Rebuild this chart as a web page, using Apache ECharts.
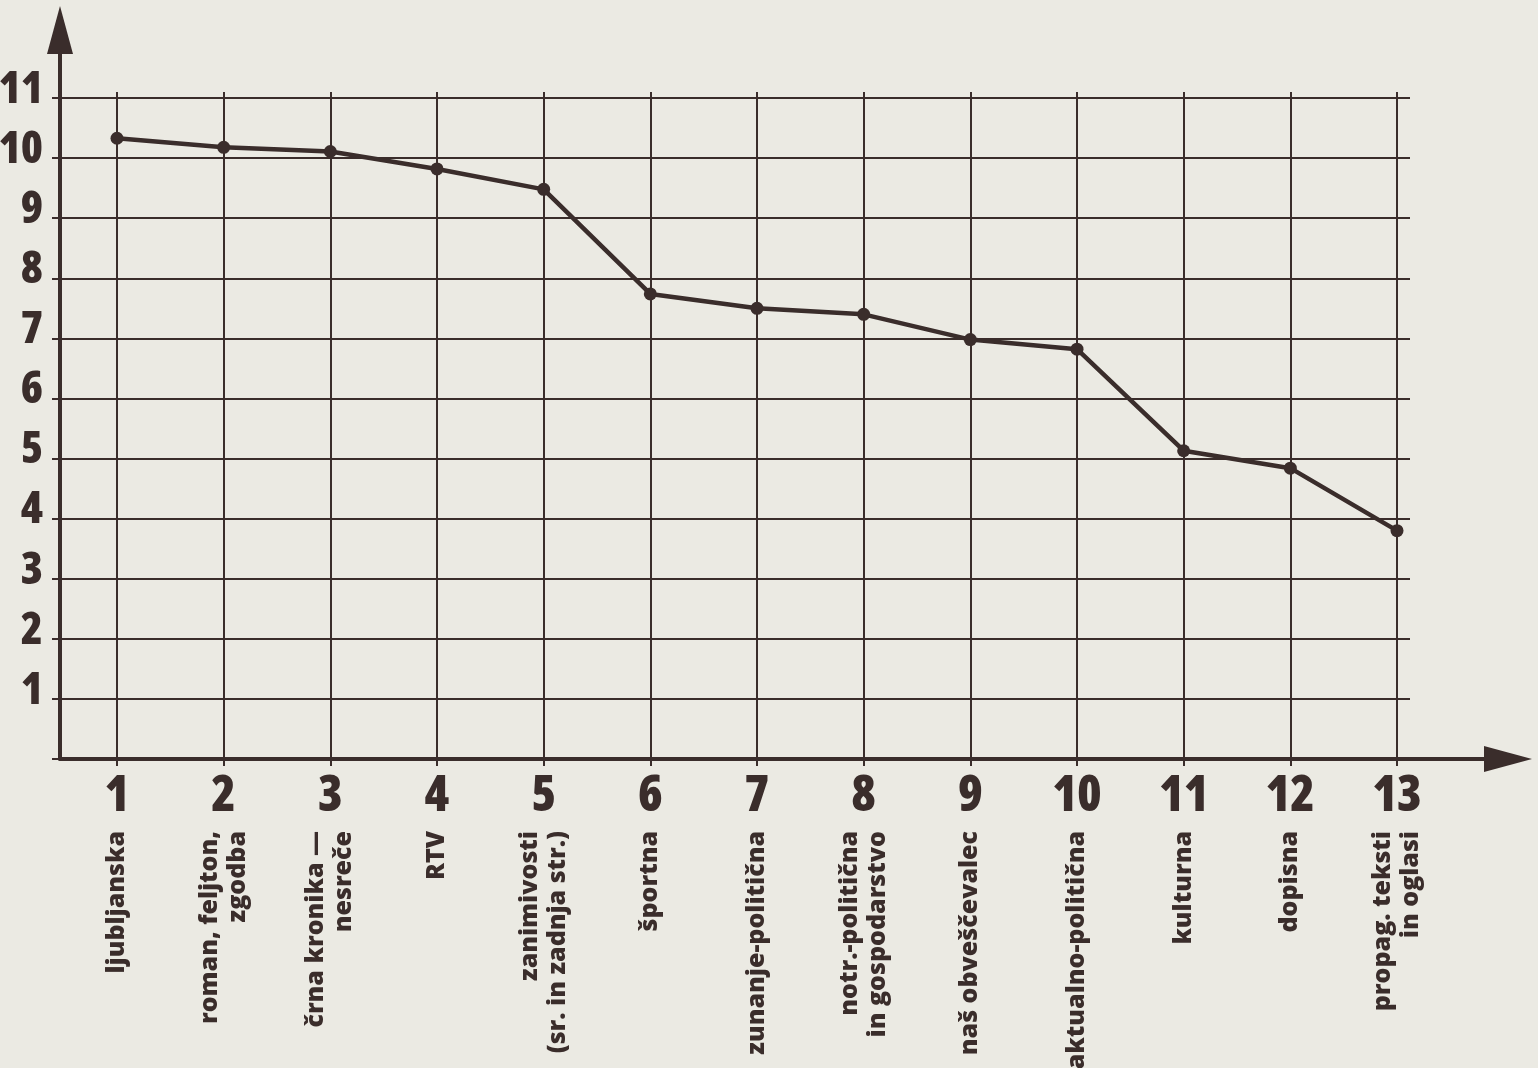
<!DOCTYPE html>
<html>
<head>
<meta charset="utf-8">
<script src="https://cdn.jsdelivr.net/npm/echarts@6/dist/echarts.min.js"></script>
<style>
html,body{margin:0;padding:0;background:#ebeae3;}
#chart{width:1538px;height:1068px;}
</style>
</head>
<body>
<div id="chart"></div>
<script>
// ---- data ----
const categoryNumbers = ['1','2','3','4','5','6','7','8','9','10','11','12','13'];
const categoryNames = [
  'ljubljanska',
  'roman, feljton,\nzgodba',
  'črna kronika —\nnesreče',
  'RTV',
  'zanimivosti\n(sr. in zadnja str.)',
  'športna',
  'zunanje-politična',
  'notr.-politična\nin gospodarstvo',
  'naš obveščevalec',
  'aktualno-politična',
  'kulturna',
  'dopisna',
  'propag. teksti\nin oglasi'
];
const values = [10.33, 10.18, 10.11, 9.82, 9.48, 7.74, 7.5, 7.4, 6.98, 6.82, 5.13, 4.84, 3.8];
const yTicks = [1,2,3,4,5,6,7,8,9,10,11];

const INK = '#3a2d2b';
const numFont = '"Open Sans", sans-serif';
const numWeight = '800 extra-condensed';
const nameFont = '"Open Sans", "Noto Sans", sans-serif';

const chart = echarts.init(document.getElementById('chart'));
chart.setOption({
  backgroundColor: '#ebeae3',
  animation: false,
  grid: [
    {left: 117, right: 141, top: 92, bottom: 309, outerBoundsMode: 'none', containLabel: false},
    {left: 60, right: 128, top: 98, bottom: 309, outerBoundsMode: 'none', containLabel: false},
    {left: 60, right: 30, top: 30, bottom: 309, outerBoundsMode: 'none', containLabel: false}
  ],
  xAxis: [
    {
      gridIndex: 0, type: 'category', data: categoryNumbers, boundaryGap: false,
      axisLine: {show: false},
      axisTick: {show: true, length: 7, lineStyle: {color: INK, width: 2}},
      splitLine: {show: true, lineStyle: {color: INK, width: 2}},
      axisLabel: {
        show: true, interval: 0, margin: 16, color: INK,
        fontFamily: numFont, fontWeight: numWeight, fontSize: 50, lineHeight: 44
      }
    },
    {
      gridIndex: 0, type: 'category', data: categoryNames, boundaryGap: false,
      position: 'bottom',
      axisLine: {show: false}, axisTick: {show: false}, splitLine: {show: false},
      axisLabel: {
        show: true, interval: 0, rotate: 90, margin: 72, color: INK,
        fontFamily: nameFont, fontWeight: 800, fontSize: 25, lineHeight: 28
      }
    },
    {gridIndex: 1, type: 'value', min: 0, max: 1, show: false},
    {
      gridIndex: 2, type: 'value', min: 0, max: 1,
      axisLine: {show: true, onZero: false, symbol: ['none', 'triangle'], symbolSize: [26, 48],
        lineStyle: {color: INK, width: 4}},
      axisTick: {show: false}, axisLabel: {show: false}, splitLine: {show: false}
    }
  ],
  yAxis: [
    {gridIndex: 0, type: 'value', min: 0, max: 11.1, show: false},
    {
      gridIndex: 1, type: 'value', min: 0, max: 11, interval: 1,
      axisLine: {show: false},
      axisTick: {show: true, length: 8, lineStyle: {color: INK, width: 2}},
      splitLine: {show: true, lineStyle: {color: INK, width: 2.2}},
      axisLabel: {
        show: true, margin: 17, color: INK,
        fontFamily: numFont, fontWeight: numWeight, fontSize: 45,
        verticalAlign: 'bottom', lineHeight: 16,
        formatter: v => (yTicks.indexOf(v) >= 0 ? String(v) : '')
      }
    },
    {
      gridIndex: 2, type: 'value', min: 0, max: 1,
      axisLine: {show: true, onZero: false, symbol: ['none', 'triangle'], symbolSize: [26, 48],
        lineStyle: {color: INK, width: 4}},
      axisTick: {show: false}, axisLabel: {show: false}, splitLine: {show: false}
    }
  ],
  series: [
    {
      type: 'line', xAxisIndex: 0, yAxisIndex: 0,
      data: values,
      symbol: 'circle', symbolSize: 13,
      lineStyle: {color: INK, width: 4.5},
      itemStyle: {color: INK},
      z: 5
    }
  ]
});
</script>
</body>
</html>
